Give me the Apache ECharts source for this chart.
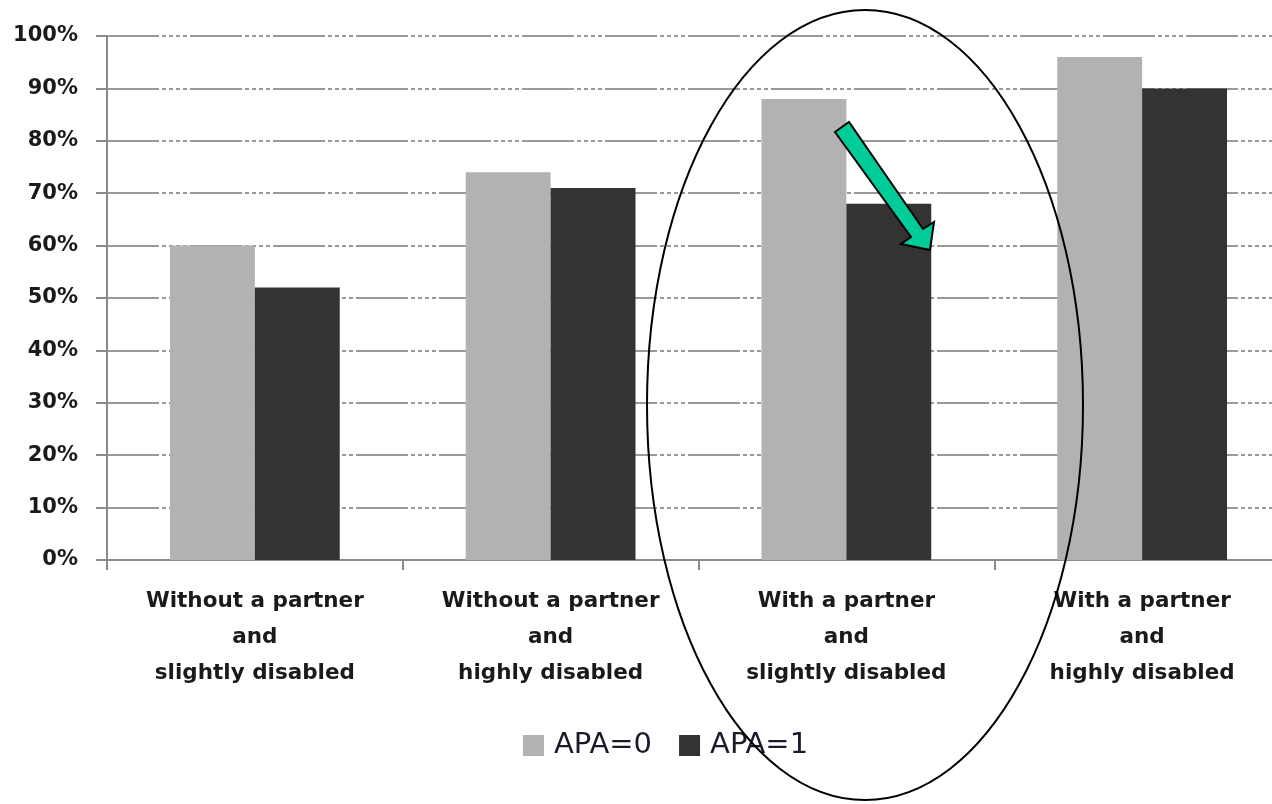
<!DOCTYPE html>
<html>
<head>
<meta charset="utf-8">
<script src="https://cdn.jsdelivr.net/npm/echarts@6/dist/echarts.min.js"></script>
<style>
  html, body { margin: 0; padding: 0; background: #fff; overflow: hidden; }
  /* plot runs past the right edge in the reference, so the canvas is a bit wider than the window */
  #main { width: 1290px; height: 804px; }
</style>
</head>
<body>
<div id="main"></div>
<script>
var categories = [
  'Without a partner\nand\nslightly disabled',
  'Without a partner\nand\nhighly disabled',
  'With a partner\nand\nslightly disabled',
  'With a partner\nand\nhighly disabled'
];
var apa0 = [60, 74, 88, 96];
var apa1 = [52, 71, 68, 90];
var seriesNames = ['APA=0', 'APA=1'];

var chart = echarts.init(document.getElementById('main'));

// grid line: long solid piece then a dash-dot run, like the scan
var gridDash = [52, 3, 4, 3, 4, 3, 4, 3, 4, 3];

var option = {
  animation: false,
  grid: {
    left: 107,
    right: 0,
    top: 36,
    bottom: 244
  },
  legend: {
    data: seriesNames,
    top: 731,
    left: 523,
    padding: 0,
    icon: 'rect',
    itemWidth: 21,
    itemHeight: 21,
    itemGap: 27,
    textStyle: {
      fontFamily: 'DejaVu Sans',
      fontSize: 29,
      color: '#1a1a2a',
      padding: [0, 0, 0, 5]
    }
  },
  xAxis: {
    type: 'category',
    data: categories,
    axisLine: { lineStyle: { color: '#8a8a8a', width: 2 } },
    axisTick: { show: true, length: 10, lineStyle: { color: '#8a8a8a', width: 2 } },
    axisLabel: {
      margin: 23,
      lineHeight: 36,
      fontFamily: 'DejaVu Sans',
      fontWeight: 'bold',
      fontSize: 21.5,
      color: '#1a1a1a'
    }
  },
  yAxis: {
    type: 'value',
    min: 0,
    max: 100,
    interval: 10,
    axisLine: { show: true, lineStyle: { color: '#8a8a8a', width: 2 } },
    axisTick: { show: true, length: 11, lineStyle: { color: '#8a8a8a', width: 2 } },
    axisLabel: {
      formatter: '{value}%',
      margin: 29,
      fontFamily: 'DejaVu Sans',
      fontWeight: 'bold',
      fontSize: 21,
      color: '#1a1a1a'
    },
    splitLine: {
      lineStyle: { color: '#999', width: 2, type: gridDash }
    }
  },
  series: [
    {
      name: seriesNames[0],
      type: 'bar',
      data: apa0,
      barWidth: '28.7%',
      barGap: '0%',
      itemStyle: { color: '#b2b2b2' }
    },
    {
      name: seriesNames[1],
      type: 'bar',
      data: apa1,
      barWidth: '28.7%',
      barGap: '0%',
      itemStyle: { color: '#333333' }
    }
  ],
  graphic: [
    {
      type: 'ellipse',
      shape: { cx: 865, cy: 405, rx: 218, ry: 395 },
      style: { fill: 'none', stroke: '#000', lineWidth: 2 },
      z: 100
    },
    {
      type: 'polygon',
      shape: {
        points: [[835, 132], [849, 122], [923, 229], [934, 222], [930, 250], [901, 244], [911, 237]]
      },
      style: { fill: '#00cc99', stroke: '#000', lineWidth: 2, lineJoin: 'miter' },
      z: 100
    }
  ]
};

chart.setOption(option);
</script>
</body>
</html>
